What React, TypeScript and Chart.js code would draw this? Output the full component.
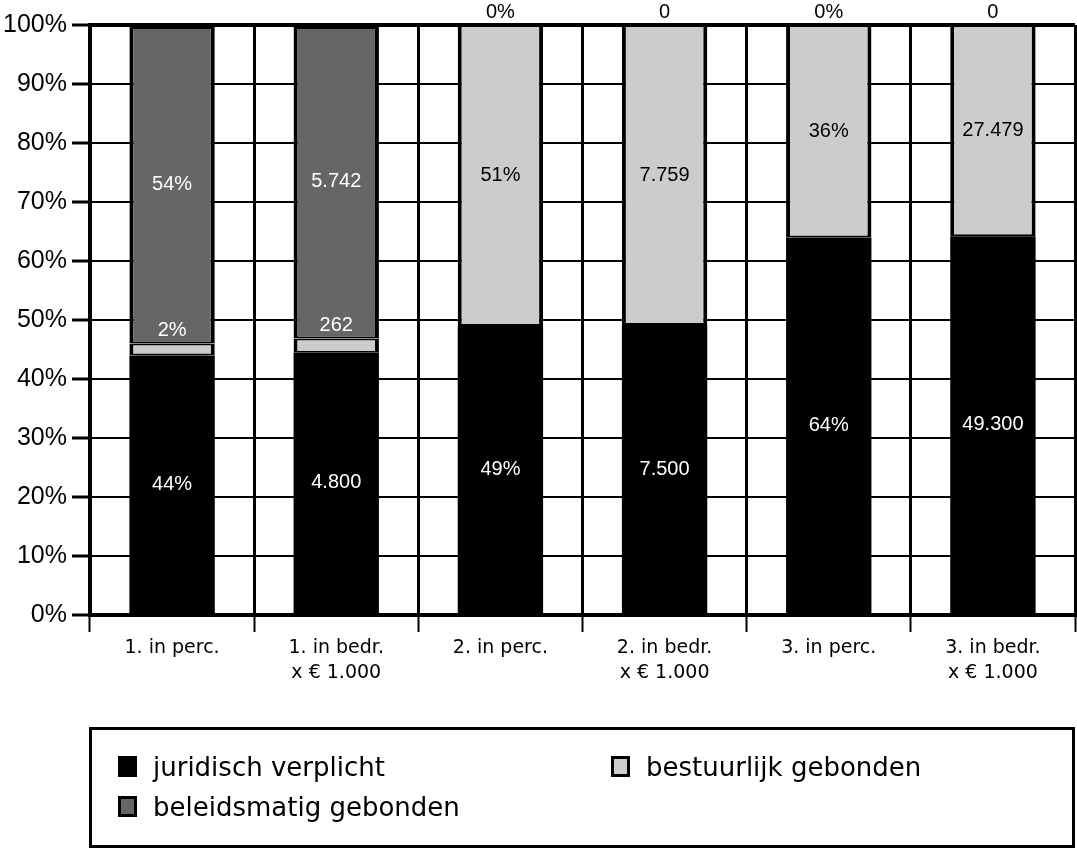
import React, { useEffect, useRef } from 'react';
import { Chart, registerables } from 'chart.js';

Chart.register(...registerables);

const categories: string[][] = [
  ['1. in perc.'],
  ['1. in bedr.', 'x € 1.000'],
  ['2. in perc.'],
  ['2. in bedr.', 'x € 1.000'],
  ['3. in perc.'],
  ['3. in bedr.', 'x € 1.000'],
];
const units = ['%', '', '%', '', '%', ''];
const juridischVerplicht = [44, 4800, 49, 7500, 64, 49300];
const bestuurlijkGebonden = [2, 262, 51, 7759, 36, 27479];
const beleidsmatigGebonden = [54, 5742, 0, 0, 0, 0];
const seriesLabels = ['juridisch verplicht', 'bestuurlijk gebonden', 'beleidsmatig gebonden'];
const seriesColors = ['#000000', '#cccccc', '#666666'];
const labelColors = ['#ffffff', '#000000', '#ffffff'];

const rawSeries = [juridischVerplicht, bestuurlijkGebonden, beleidsmatigGebonden];
const totals = categories.map((_, j) => rawSeries.reduce((s, arr) => s + arr[j], 0));
const toShare = (arr: number[]) => arr.map((v, j) => (v / totals[j]) * 100);

const fmt = (n: number) => String(n).replace(/\B(?=(\d{3})+(?!\d))/g, '.');

const labelPlugin = {
  id: 'segLabels',
  afterDatasetsDraw(chart: any) {
    const ctx = chart.ctx;
    ctx.save();
    ctx.font = '20px "Liberation Sans", Arial, sans-serif';
    ctx.textAlign = 'center';
    ctx.textBaseline = 'middle';
    const metas = chart.data.datasets.map((_: any, i: number) => chart.getDatasetMeta(i));
    metas.forEach((meta: any, i: number) => {
      meta.data.forEach((el: any, j: number) => {
        const p = el.getProps(['x', 'y', 'base'], true);
        const top = Math.min(p.y, p.base);
        const bottom = Math.max(p.y, p.base);
        const h = bottom - top;
        const text = fmt(rawSeries[i][j]) + units[j];
        let y: number;
        let color: string;
        if (h >= 24) {
          y = (top + bottom) / 2;
          color = labelColors[i];
        } else {
          y = top - 13;
          color = '#000000';
          for (let k = i + 1; k < metas.length; k++) {
            const q = metas[k].data[j].getProps(['y', 'base'], true);
            if (Math.abs(q.base - q.y) > 0.5) {
              color = labelColors[k];
              break;
            }
          }
        }
        ctx.fillStyle = color;
        ctx.fillText(text, p.x, y);
      });
    });
    ctx.restore();
  },
};

const legendPlugin = {
  id: 'boxLegend',
  afterDraw(chart: any) {
    const ctx = chart.ctx;
    ctx.save();
    ctx.strokeStyle = '#000';
    ctx.lineWidth = 3;
    ctx.strokeRect(90.5, 728.5, 983, 118);
    const spots = [
      { x: 118, y: 776 },
      { x: 611, y: 776 },
      { x: 118, y: 816 },
    ];
    ctx.font = '26px "DejaVu Sans", sans-serif';
    ctx.textBaseline = 'alphabetic';
    ctx.textAlign = 'left';
    chart.data.datasets.forEach((ds: any, i: number) => {
      const s = spots[i];
      ctx.fillStyle = ds.backgroundColor;
      ctx.fillRect(s.x, s.y - 20, 19, 21);
      ctx.strokeStyle = '#000';
      ctx.lineWidth = 3;
      ctx.strokeRect(s.x + 1.5, s.y - 18.5, 16, 18);
      ctx.fillStyle = '#000';
      ctx.fillText(ds.label, s.x + 35, s.y);
    });
    ctx.restore();
  },
};

export default function App() {
  const ref = useRef<HTMLCanvasElement>(null);
  useEffect(() => {
    if (!ref.current) return;
    const chart = new Chart(ref.current, {
      type: 'bar',
      data: {
        labels: categories,
        datasets: rawSeries.map((arr, i) => ({
          label: seriesLabels[i],
          data: toShare(arr),
          backgroundColor: seriesColors[i],
          borderColor: '#000000',
          borderWidth: i === 0 ? 0 : { left: 4, right: 4, top: i === 2 ? 4 : 2, bottom: 2 },
          borderSkipped: false,
          barPercentage: 0.52,
          categoryPercentage: 1,
        })),
      },
      options: {
        responsive: false,
        animation: false,
        layout: { padding: { top: 25, left: 0, right: 2, bottom: 125 } },
        plugins: {
          legend: { display: false },
          tooltip: { enabled: false },
        },
        scales: {
          x: {
            stacked: true,
            offset: true,
            grid: {
              offset: true,
              color: '#000',
              lineWidth: 3,
              tickLength: 17,
              tickWidth: 2,
              tickColor: '#000',
            },
            border: { display: true, color: '#000', width: 4 },
            ticks: {
              color: '#000',
              font: { family: '"DejaVu Sans", sans-serif', size: 19, lineHeight: 1.3 },
              padding: 4,
              maxRotation: 0,
              autoSkip: false,
            },
            afterFit: (s: any) => {
              s.height = 110;
            },
          },
          y: {
            stacked: true,
            min: 0,
            max: 100,
            grid: {
              color: '#000',
              lineWidth: (c: any) => (c.tick && (c.tick.value === 0 || c.tick.value === 100) ? 4 : 2),
              tickLength: 18,
              tickWidth: 3,
              tickColor: '#000',
            },
            border: { display: true, color: '#000', width: 4 },
            ticks: {
              stepSize: 10,
              color: '#000',
              padding: 5,
              font: { family: '"Liberation Sans", Arial, sans-serif', size: 25 },
              callback: (v: any) => v + '%',
            },
            afterFit: (s: any) => {
              s.width = 90;
            },
          },
        },
      },
      plugins: [labelPlugin, legendPlugin],
    });
    return () => chart.destroy();
  }, []);
  return (
    <div style={{ position: 'absolute', left: 0, top: 0, width: 1077, height: 850, background: '#fff' }}>
      <canvas ref={ref} width={1077} height={850} />
    </div>
  );
}
